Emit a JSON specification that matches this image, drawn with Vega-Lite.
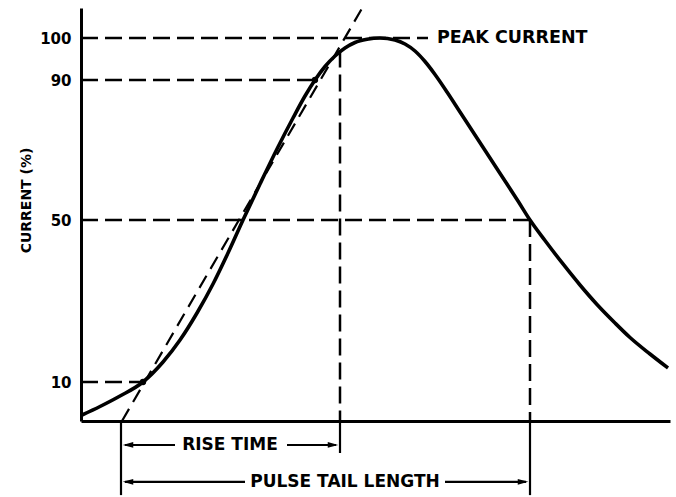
{
  "$schema": "https://vega.github.io/schema/vega-lite/v6.json",
  "width": 589,
  "height": 413,
  "autosize": {"type": "none"},
  "padding": {"left": 81, "top": 8, "right": 6, "bottom": 76},
  "background": "white",
  "config": {
    "view": {"stroke": null},
    "font": "DejaVu Sans",
    "text": {"font": "DejaVu Sans", "fontWeight": "bold", "color": "black"}
  },
  "datasets": {
    "curve": [
      {"t": 1, "v": 1.54}, {"t": 19, "v": 3.72}, {"t": 39, "v": 6.41}, {"t": 62, "v": 10},
      {"t": 82, "v": 14.94}, {"t": 99, "v": 20.37}, {"t": 116, "v": 27.04}, {"t": 132, "v": 34.2},
      {"t": 147, "v": 41.85}, {"t": 162, "v": 50}, {"t": 179, "v": 60.29}, {"t": 196, "v": 70.29},
      {"t": 212, "v": 79.14}, {"t": 224, "v": 85.43}, {"t": 234, "v": 90}, {"t": 244, "v": 93.21},
      {"t": 254, "v": 95.71}, {"t": 264, "v": 97.62}, {"t": 274, "v": 98.93}, {"t": 286, "v": 99.69},
      {"t": 299, "v": 100}, {"t": 314, "v": 99.52}, {"t": 324, "v": 98.57}, {"t": 334, "v": 96.9},
      {"t": 344, "v": 94.4}, {"t": 354, "v": 91.31}, {"t": 366, "v": 86.57}, {"t": 379, "v": 80.86},
      {"t": 394, "v": 74.29}, {"t": 409, "v": 67.71}, {"t": 424, "v": 61.14}, {"t": 437, "v": 55.43},
      {"t": 449, "v": 50}, {"t": 464, "v": 44.94}, {"t": 482, "v": 39.14}, {"t": 499, "v": 33.95},
      {"t": 516, "v": 29.14}, {"t": 534, "v": 24.57}, {"t": 549, "v": 20.99}, {"t": 569, "v": 16.91},
      {"t": 587, "v": 13.46}
    ],
    "tangent": [{"t": 41, "v": 0}, {"t": 282, "v": 107.4}],
    "dashed": [
      {"t": 0, "t2": 347, "v": 100, "v2": 100},
      {"t": 0, "t2": 234, "v": 90, "v2": 90},
      {"t": 0, "t2": 449, "v": 50, "v2": 50},
      {"t": 0, "t2": 62, "v": 10, "v2": 10},
      {"t": 259, "t2": 259, "v": 97, "v2": 0},
      {"t": 449, "t2": 449, "v": 50, "v2": 0}
    ],
    "solid": [
      {"t": 40, "t2": 40, "v": -0.5, "v2": -19},
      {"t": 259, "t2": 259, "v": 0, "v2": -8.2},
      {"t": 449, "t2": 449, "v": 0, "v2": -19},
      {"t": 44, "t2": 94, "v": -6.15, "v2": -6.15},
      {"t": 206, "t2": 255, "v": -6.15, "v2": -6.15},
      {"t": 44, "t2": 164, "v": -15.6, "v2": -15.6},
      {"t": 364, "t2": 445, "v": -15.6, "v2": -15.6}
    ],
    "headsL": [{"t": 47, "v": -6.15}, {"t": 47, "v": -15.6}],
    "headsR": [{"t": 252, "v": -6.15}, {"t": 442, "v": -15.6}],
    "dots": [{"t": 62, "v": 10}, {"t": 234, "v": 90}],
    "labels": [
      {"t": 149, "v": -6.15, "label": "RISE TIME"},
      {"t": 264, "v": -15.6, "label": "PULSE TAIL LENGTH"}
    ],
    "peak": [{"t": 356, "v": 100, "label": "PEAK CURRENT"}]
  },
  "encoding": {
    "x": {
      "field": "t", "type": "quantitative",
      "scale": {"domain": [0, 589], "nice": false, "zero": false},
      "axis": {"domain": true, "domainColor": "black", "domainWidth": 3, "ticks": false, "labels": false, "grid": false, "title": null}
    },
    "y": {
      "field": "v", "type": "quantitative",
      "scale": {"domain": [0, 10, 50, 90, 100, 107.1], "range": [413, 374, 212, 72, 30, 0], "nice": false, "zero": false},
      "axis": {
        "values": [10, 50, 90, 100],
        "domain": true, "domainColor": "black", "domainWidth": 3,
        "ticks": false, "tickSize": 0, "grid": false,
        "labelPadding": 10, "labelFont": "DejaVu Sans", "labelFontWeight": "bold", "labelFontSize": 15, "labelColor": "black",
        "title": "CURRENT (%)", "titleFont": "DejaVu Sans", "titleFontWeight": "bold", "titleFontSize": 14, "titleColor": "black",
        "titleX": -55, "titleY": 192, "titleBaseline": "middle", "titleAngle": -90
      }
    }
  },
  "layer": [
    {
      "data": {"name": "dashed"},
      "mark": {"type": "rule", "color": "black", "strokeWidth": 2.5, "strokeDash": [17, 7]},
      "encoding": {"x2": {"field": "t2"}, "y2": {"field": "v2"}}
    },
    {
      "data": {"name": "solid"},
      "mark": {"type": "rule", "color": "black", "strokeWidth": 2.2},
      "encoding": {"x2": {"field": "t2"}, "y2": {"field": "v2"}}
    },
    {
      "data": {"name": "tangent"},
      "mark": {"type": "line", "color": "black", "strokeWidth": 2.2, "strokeDash": [14, 8]},
      "encoding": {}
    },
    {
      "data": {"name": "curve"},
      "mark": {"type": "line", "color": "black", "strokeWidth": 3.6, "interpolate": "monotone"},
      "encoding": {}
    },
    {
      "data": {"name": "dots"},
      "mark": {"type": "point", "filled": true, "color": "black", "size": 40, "opacity": 1},
      "encoding": {}
    },
    {
      "data": {"name": "headsL"},
      "mark": {"type": "point", "filled": true, "color": "black", "size": 110, "opacity": 1, "shape": "M -1 0 L 1 -0.55 L 1 0.55 Z"},
      "encoding": {}
    },
    {
      "data": {"name": "headsR"},
      "mark": {"type": "point", "filled": true, "color": "black", "size": 110, "opacity": 1, "shape": "M 1 0 L -1 -0.55 L -1 0.55 Z"},
      "encoding": {}
    },
    {
      "data": {"name": "labels"},
      "mark": {"type": "text", "fontSize": 17, "fontWeight": "bold", "align": "center", "baseline": "middle", "color": "black"},
      "encoding": {"text": {"field": "label"}}
    },
    {
      "data": {"name": "peak"},
      "mark": {"type": "text", "fontSize": 17.5, "fontWeight": "bold", "align": "left", "baseline": "middle", "color": "black"},
      "encoding": {"text": {"field": "label"}}
    }
  ]
}
